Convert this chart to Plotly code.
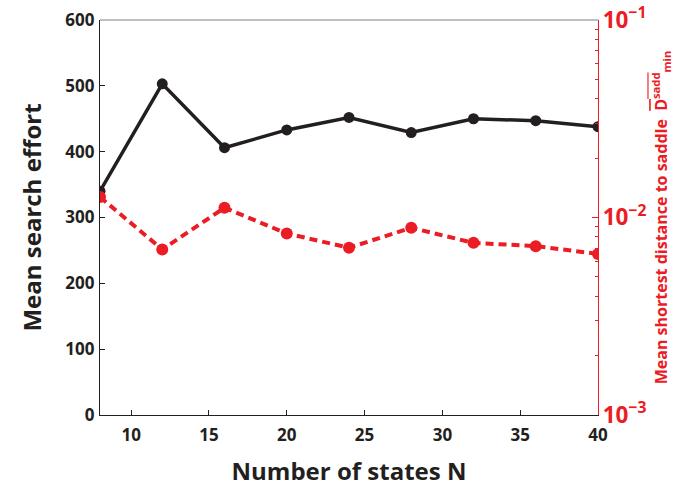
import plotly.graph_objects as go

N = [8, 12, 16, 20, 24, 28, 32, 36, 40]
search_effort = [340, 503, 406, 433, 452, 429, 450, 447, 438]
saddle_dist = [0.0127, 0.00689, 0.0112, 0.0083, 0.00703, 0.00887, 0.00744, 0.00716, 0.00654]

BLACK = "#231f20"
RED = "#ec1c24"
FONT = "Open Sans"

fig = go.Figure()
fig.add_trace(go.Scatter(x=N, y=search_effort, mode="lines+markers",
                         line=dict(color=BLACK, width=3.5),
                         marker=dict(color=BLACK, size=11), yaxis="y", showlegend=False))
fig.add_trace(go.Scatter(x=N, y=saddle_dist, mode="lines+markers",
                         line=dict(color=RED, width=4, dash="8px,5px"),
                         marker=dict(color=RED, size=12), yaxis="y2", showlegend=False))

fig.update_layout(
    width=685, height=496,
    margin=dict(l=100, r=87, t=20, b=81),
    plot_bgcolor="white", paper_bgcolor="white",
    font=dict(family=FONT, color=BLACK, size=17, weight="bold"),
    xaxis=dict(range=[8, 40], tickvals=[10, 15, 20, 25, 30, 35, 40], automargin=False,
               tickfont=dict(size=17, weight="bold"),
               ticks="inside", ticklen=5, tickcolor=BLACK, showline=True, linecolor=BLACK,
               linewidth=1.2, showgrid=False, zeroline=False, ticklabelstandoff=4,
               title=dict(text="Number of states N", font=dict(size=24, weight="bold"), standoff=18)),
    yaxis=dict(range=[0, 600], tickvals=[0, 100, 200, 300, 400, 500, 600], automargin=False,
               tickfont=dict(size=17, weight="bold"),
               ticks="inside", ticklen=5, tickcolor=BLACK, showline=True, linecolor=BLACK,
               linewidth=1.2, showgrid=False, zeroline=False, ticklabelstandoff=1,
               title=dict(text="Mean search effort", font=dict(size=24, weight="bold"), standoff=16)),
    yaxis2=dict(type="log", range=[-3, -1], overlaying="y", side="right", dtick=1,
                exponentformat="power", showexponent="all", automargin=False,
                ticks="inside", ticklen=6, tickcolor=RED, showline=True, linecolor=RED,
                linewidth=1.2, showgrid=False, zeroline=False,
                tickfont=dict(color=RED, size=18, weight="bold"),
                minor=dict(ticks="inside", ticklen=3, tickcolor=RED, dtick="D1", showgrid=False),
                title=dict(text="Mean shortest distance to saddle  <span style='text-decoration:overline'>D<sup>sadd</sup></span><sub>min</sub>",
                           font=dict(color=RED, size=16, weight="bold"), standoff=10)),
    shapes=[dict(type="line", xref="paper", yref="paper", x0=0, x1=1, y0=1, y1=1,
                 line=dict(color="#808080", width=1.2))],
)

fig.write_html("out.html")
